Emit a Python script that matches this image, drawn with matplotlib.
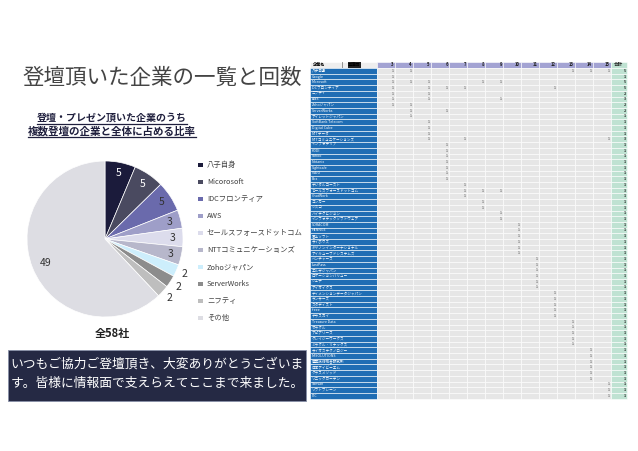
import matplotlib
matplotlib.use("Agg")
import matplotlib.pyplot as plt
from matplotlib.patches import Rectangle
import numpy as np

plt.rcParams['font.family'] = ['Noto Sans CJK JP', 'DejaVu Sans']

# ---------------- data ----------------
title = "登壇頂いた企業の一覧と回数"
subtitle1 = "登壇・プレゼン頂いた企業のうち"
subtitle2 = "複数登壇の企業と全体に占める比率"
total_label = "全58社"
message1 = "いつもご協力ご登壇頂き、大変ありがとうございま"
message2 = "す。皆様に情報面で支えらえてここまで来ました。"

pie_labels = ["八子自身", "Micorosoft", "IDCフロンティア", "AWS", "セールスフォースドットコム",
              "NTTコミュニケーションズ", "Zohoジャパン", "ServerWorks", "ニフティ", "その他"]
pie_values = [5, 5, 5, 3, 3, 3, 2, 2, 2, 49]
pie_colors = ["#1b1b3b", "#4a4a60", "#6a6aac", "#9e9ec8", "#dcdcec",
              "#b7b7cb", "#cdeefc", "#8c8c8c", "#bebebe", "#dddde3"]

table_columns = [3, 4, 5, 6, 7, 8, 9, 10, 11, 12, 13, 14, 15]
companies = ["八子自身", "Google", "Microsoft", "IDCフロンティア", "ニフティ", "AWS", "Zohoジャパン",
             "ServerWorks", "アイレットジャパン", "SoftBank Telecom", "Digital Cube", "NTTデータ",
             "NTTコミュニケーションズ", "インフォテリア", "KDDI", "Yahoo", "Nutanix", "Sightcafe",
             "VAIO", "Box", "デジタルコースト", "セールスフォースドットコム", "ChatWork", "コンカー",
             "シスコ", "ハイテクビジョン", "インフォテックソフトウェア", "SORACOM", "HENNGE",
             "富士ソフト", "サイボウズ", "キヤノンインターナショナル", "アイキューブドシステムズ",
             "ベンチャーズ", "LastPass", "エルザジャパン", "ロケーションバリュー", "ジェナ",
             "アイオイクス", "ディメンションデータジャパン", "ランサーズ", "スタディスト", "freee",
             "テラスカイ", "Treasure Data", "オラクル", "アピアリーズ", "クレイジーワークス",
             "ミラクル・リナックス", "サイオステクノロジー", "M-SOLUTIONS", "産業技術総合研究所",
             "日本アイビーエム", "クラスメソッド", "ソニックガーデン", "Sansan", "ソフトブレーン", "ITC"]
sessions = [[3, 4, 13, 14, 15], [3], [3, 4, 5, 8, 9], [3, 5, 6, 7, 12], [3, 5], [3, 5, 9], [3, 4],
            [4, 6], [4], [5], [5], [5], [5, 7, 15], [6], [6], [6], [6], [6], [6], [6],
            [7], [7, 8, 9], [7], [8], [8], [9], [9], [10], [10], [10], [10], [10], [10],
            [11], [11], [11], [11], [11], [11], [12], [12], [12], [12], [12],
            [13], [13], [13], [13], [13], [14], [14], [14], [14], [14], [14], [15], [15], [15]]

# ---------------- figure ----------------
W, H = 638, 451
fig = plt.figure(figsize=(W / 100, H / 100), dpi=100)
fig.patch.set_facecolor("white")
bg = fig.add_axes([0, 0, 1, 1])
bg.set_xlim(0, W)
bg.set_ylim(H, 0)
bg.axis("off")

bg.text(22, 78, title, fontsize=15.5, color="#444444", va="center", ha="left")

# subtitle with underline
navy = "#1f1f3d"
subs = []
for txt, y, fs in [(subtitle1, 118, 7.2), (subtitle2, 131, 7.6)]:
    subs.append(bg.text(112, y, txt, fontsize=fs, fontweight="bold", color=navy, ha="center", va="center"))
fig.canvas.draw()
r = fig.canvas.get_renderer()
for t in subs:
    bb = t.get_window_extent(r)
    yline = H - bb.y0 + 0.5
    bg.plot([bb.x0, bb.x1], [yline, yline], color=navy, lw=0.9)

# ---------------- pie ----------------
cx, cy, rad = 105, 239, 78
pax = fig.add_axes([(cx - rad) / W, (H - cy - rad) / H, 2 * rad / W, 2 * rad / H])
wedges, _ = pax.pie(pie_values, colors=pie_colors, startangle=90, counterclock=False,
                    wedgeprops=dict(edgecolor="white", linewidth=0.5))
pax.set_xlim(-1, 1)
pax.set_ylim(-1, 1)
pax.set_aspect("equal")
pax.axis("off")
for i, (w, v) in enumerate(zip(wedges, pie_values)):
    ang = np.deg2rad((w.theta1 + w.theta2) / 2)
    if v == 2:
        d = 1.12
    elif v >= 49:
        d = 0.82
    else:
        d = 0.86
    col = "white" if i < 2 else "#333333"
    pax.text(d * np.cos(ang), d * np.sin(ang), str(v), ha="center", va="center",
             fontsize=7.5, color=col, clip_on=False)

# legend
for i, (lab, c) in enumerate(zip(pie_labels, pie_colors)):
    y = 165 + i * 17
    bg.add_patch(Rectangle((198, y - 2.3), 4.6, 4.6, facecolor=c, edgecolor="none"))
    bg.text(207, y, lab, fontsize=5.3, color="#404040", va="center", ha="left")

bg.text(112, 333, total_label, fontsize=8, fontweight="bold", color="#222222", ha="center", va="center")

# message box
bg.add_patch(Rectangle((8, 350), 298, 51, facecolor="#252944", edgecolor="#8890a8", lw=0.6))
bg.text(157, 364.5, message1, fontsize=9.2, color="white", ha="center", va="center")
bg.text(157, 383.5, message2, fontsize=9.2, color="white", ha="center", va="center")

# ---------------- table ----------------
x0, name_w = 310, 66.7
col_w = 18.03
tot_w = 15.7
hdr_top, hdr_h = 61.5, 6.5
row_top, row_h = 68.0, 5.7
blue = "#1f6db4"
grey = "#e6e6e6"
green = "#bfe2d2"
lav = "#a3a3d3"

# header
bg.add_patch(Rectangle((x0, hdr_top), name_w, hdr_h, facecolor="#eeeeee", edgecolor="white", lw=0.4))
bg.text(x0 + 3, hdr_top + hdr_h / 2, "企業名", fontsize=3.0, fontweight="bold", color="black", va="center")
bg.text(x0 + 32, hdr_top + hdr_h / 2, "|", fontsize=3.0, fontweight="bold", color="black", va="center")
bg.text(x0 + 38, hdr_top + hdr_h / 2, "登壇回", fontsize=3.0, fontweight="bold", color="black", va="center",
        bbox=dict(facecolor="#222222", edgecolor="none", pad=0.3))
for j, c in enumerate(table_columns):
    xl = x0 + name_w + j * col_w
    bg.add_patch(Rectangle((xl, hdr_top), col_w, hdr_h, facecolor=lav, edgecolor="white", lw=0.4))
    bg.text(xl + col_w - 1, hdr_top + hdr_h / 2, str(c), fontsize=3, fontweight="bold", color="#222222",
            ha="right", va="center")
xt = x0 + name_w + len(table_columns) * col_w
bg.add_patch(Rectangle((xt, hdr_top), tot_w, hdr_h, facecolor=green, edgecolor="white", lw=0.4))
bg.text(xt + tot_w / 2, hdr_top + hdr_h / 2, "合計", fontsize=3.3, fontweight="bold", color="#222222",
        ha="center", va="center")

for i, (name, ses) in enumerate(zip(companies, sessions)):
    yt = row_top + i * row_h
    bg.add_patch(Rectangle((x0, yt), name_w, row_h, facecolor=blue, edgecolor="white", lw=0.4))
    bg.text(x0 + 1.5, yt + row_h / 2, name, fontsize=2.6, color="white", va="center", ha="left")
    for j, c in enumerate(table_columns):
        xl = x0 + name_w + j * col_w
        bg.add_patch(Rectangle((xl, yt), col_w, row_h, facecolor=grey, edgecolor="white", lw=0.4))
        if c in ses:
            bg.text(xl + col_w - 1.2, yt + row_h / 2, "1", fontsize=2.5, color="#333333",
                    ha="right", va="center")
    bg.add_patch(Rectangle((xt, yt), tot_w, row_h, facecolor=green, edgecolor="white", lw=0.4))
    bg.text(xt + tot_w - 1, yt + row_h / 2, str(len(ses)), fontsize=2.6, color="#222222",
            ha="right", va="center", fontweight="bold")

fig.savefig("out.png", dpi=100, facecolor="white")
